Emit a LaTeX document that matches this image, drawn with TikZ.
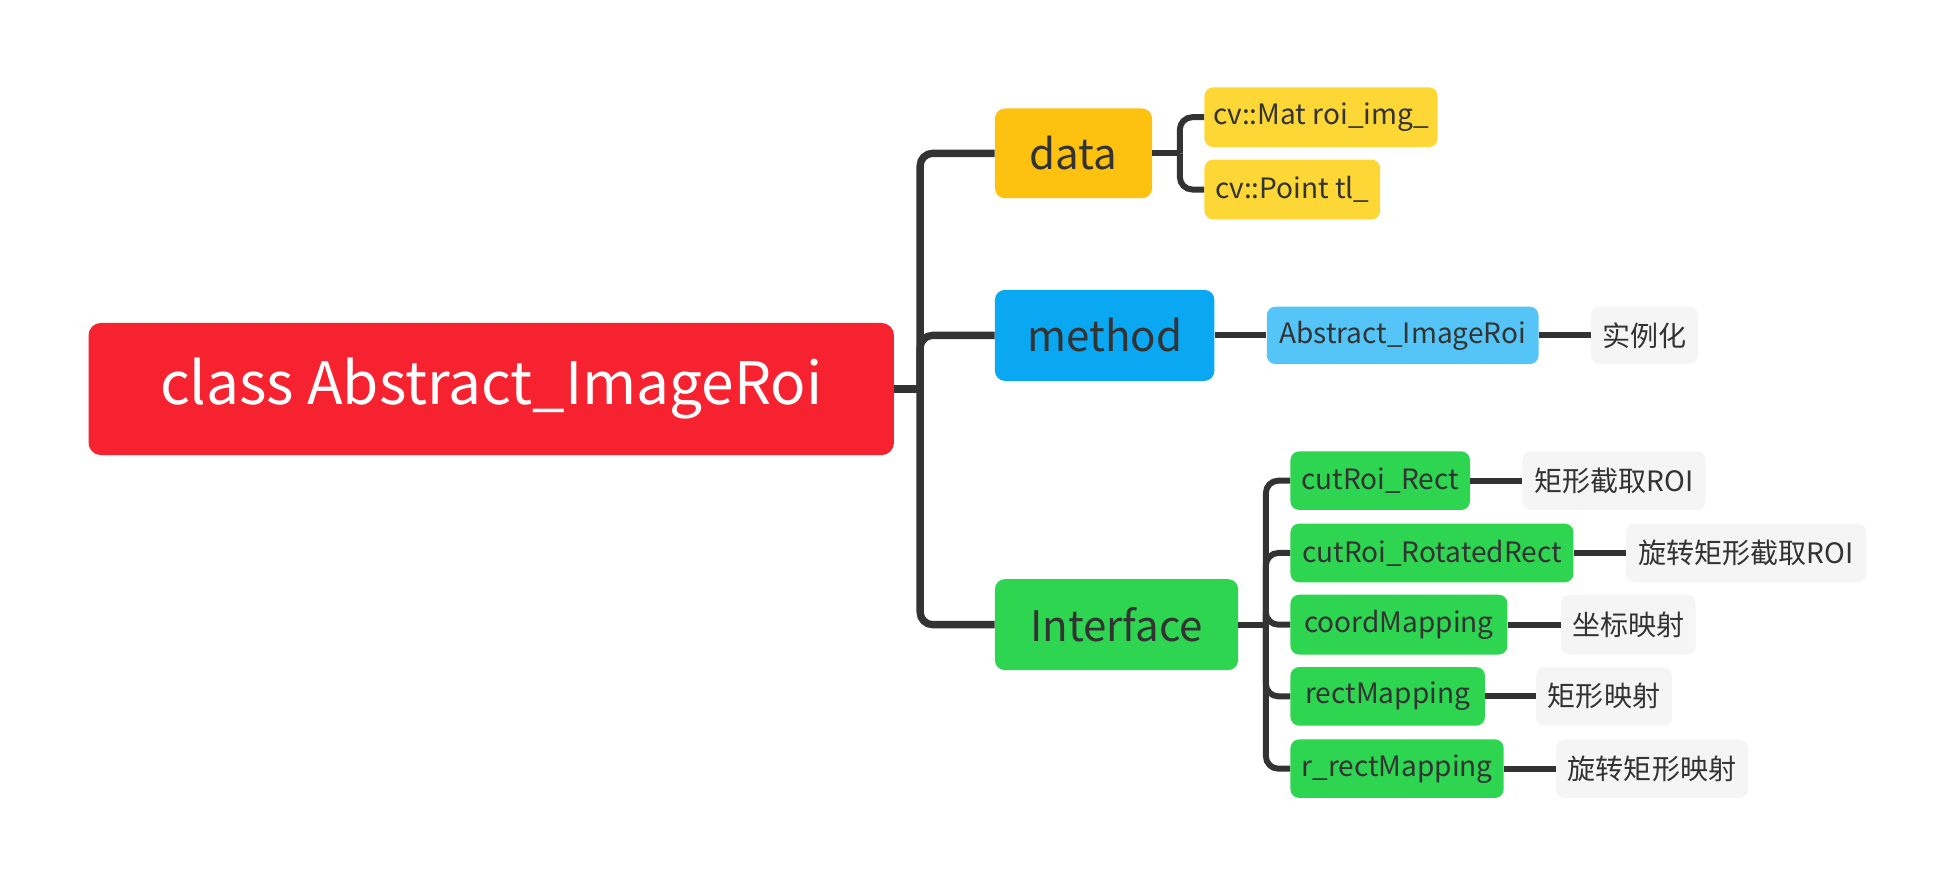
\documentclass[tikz,border=0pt]{standalone}
\usepackage{fontspec}
\setmainfont{Noto Sans CJK SC}
\usepackage{tikz}
\usetikzlibrary{calc}
\definecolor{mmred}{HTML}{F6222F}
\definecolor{mmamber}{HTML}{FDC20F}
\definecolor{mmyellow}{HTML}{FDD736}
\definecolor{mmblue}{HTML}{0AA8F2}
\definecolor{mmblued}{HTML}{55C5F8}
\definecolor{mmgreen}{HTML}{2ED550}
\definecolor{mmgrey}{HTML}{F5F5F5}
\definecolor{mmtext}{HTML}{333333}
\tikzset{
  mmbox/.style    = {rounded corners=1.75mm, align=center, inner sep=0pt,
                     text=mmtext},
  rootnode/.style = {mmbox, fill=mmred, text=white, rounded corners=2.5mm,
                     font=\fontsize{33.4}{40}\selectfont},
  topic/.style    = {mmbox, rounded corners=2mm,
                     font=\fontsize{24}{28}\selectfont},
  leaf/.style     = {mmbox, font=\fontsize{16}{19}\selectfont},
  dataleaf/.style = {leaf, fill=mmyellow},
  ifleaf/.style   = {leaf, fill=mmgreen},
  note/.style     = {leaf, fill=mmgrey},
  %
  link/.style     = {draw=mmtext, line width=4.2pt, rounded corners=2.5mm},
  leaflink/.style = {draw=mmtext, line width=3.4pt, rounded corners=2.5mm},
}

\begin{document}
\begin{tikzpicture}[x=0.25mm, y=-0.25mm]
  \useasboundingbox (0,0) rectangle (1568,711);

  % ---------- root and main topics --------------------------------------
  \node[rootnode, minimum width=161.5mm, minimum height=26.5mm] (root)
    at (394,312) {class Abstract\_ImageRoi};
  \node[topic, fill=mmamber, minimum width=31.5mm, minimum height=18mm] (data)
    at (861,123) {data};
  \node[topic, fill=mmblue, minimum width=44mm, minimum height=18.25mm] (method)
    at (886,269) {method};
  \node[topic, fill=mmgreen, minimum width=48.75mm, minimum height=18.25mm] (iface)
    at (895.5,501) {Interface};

  % ---------- data members ------------------------------------------------
  \node[dataleaf, minimum width=46.75mm, minimum height=12mm] (mat)
    at (1059.5,94) {cv::Mat roi\_img\_};
  \node[dataleaf, minimum width=35.25mm, minimum height=12mm] (point)
    at (1036.5,152) {cv::Point tl\_};

  % ---------- method -------------------------------------------------------
  \node[leaf, fill=mmblued, minimum width=54.5mm, minimum height=11.5mm] (ctor)
    at (1125,269) {Abstract\_ImageRoi};
  \node[note, minimum width=21.5mm, minimum height=11.5mm] (ctorN)
    at (1319,269) {实例化};

  % ---------- interface ----------------------------------------------------
  \node[ifleaf, minimum width=36mm, minimum height=11.75mm] (cutrect)
    at (1107,385.5) {cutRoi\_Rect};
  \node[note, minimum width=36.75mm, minimum height=11.75mm] (cutrectN)
    at (1294.5,385.5) {矩形截取ROI};
  \node[ifleaf, minimum width=56.75mm, minimum height=11.75mm] (cutrot)
    at (1148.5,443.5) {cutRoi\_RotatedRect};
  \node[note, minimum width=48.25mm, minimum height=11.75mm] (cutrotN)
    at (1400.5,443.5) {旋转矩形截取ROI};
  \node[ifleaf, minimum width=43.5mm, minimum height=12mm] (coord)
    at (1122,501) {coordMapping};
  \node[note, minimum width=27mm, minimum height=12mm] (coordN)
    at (1306,501) {坐标映射};
  \node[ifleaf, minimum width=39mm, minimum height=11.75mm] (rectm)
    at (1113,558.5) {rectMapping};
  \node[note, minimum width=27.25mm, minimum height=11.75mm] (rectmN)
    at (1286.5,558.5) {矩形映射};
  \node[ifleaf, minimum width=42.75mm, minimum height=11.75mm] (rrect)
    at (1120.5,616.5) {r\_rectMapping};
  \node[note, minimum width=38.5mm, minimum height=11.75mm] (rrectN)
    at (1325,616.5) {旋转矩形映射};

  % ---------- connectors ---------------------------------------------------
  \coordinate (rootJ) at (738,312);
  \draw[link] (root.east) -- (rootJ);
  \draw[link] (rootJ) |- (data.west);
  \draw[link] (rootJ) |- (method.west);
  \draw[link] (rootJ) |- (iface.west);

  % data bracket
  \coordinate (dataJ) at ($(data.east)+(22,0)$);
  \draw[leaflink] (data.east) -- (dataJ);
  \draw[leaflink] (dataJ) |- (mat.west);
  \draw[leaflink] (dataJ) |- (point.west);

  % method chain
  \draw[leaflink] (method.east) -- (ctor.west);
  \draw[leaflink] (ctor.east) -- (ctorN.west);

  % interface bracket
  \coordinate (ifJ) at ($(iface.east)+(22,0)$);
  \draw[leaflink] (iface.east) -- (ifJ);
  \foreach \n in {cutrect,cutrot,coord,rectm,rrect}
    \draw[leaflink] (ifJ) |- (\n.west);
  \foreach \n in {cutrect,cutrot,coord,rectm,rrect}
    \draw[leaflink] (\n.east) -- (\n N.west);

\end{tikzpicture}
\end{document}
